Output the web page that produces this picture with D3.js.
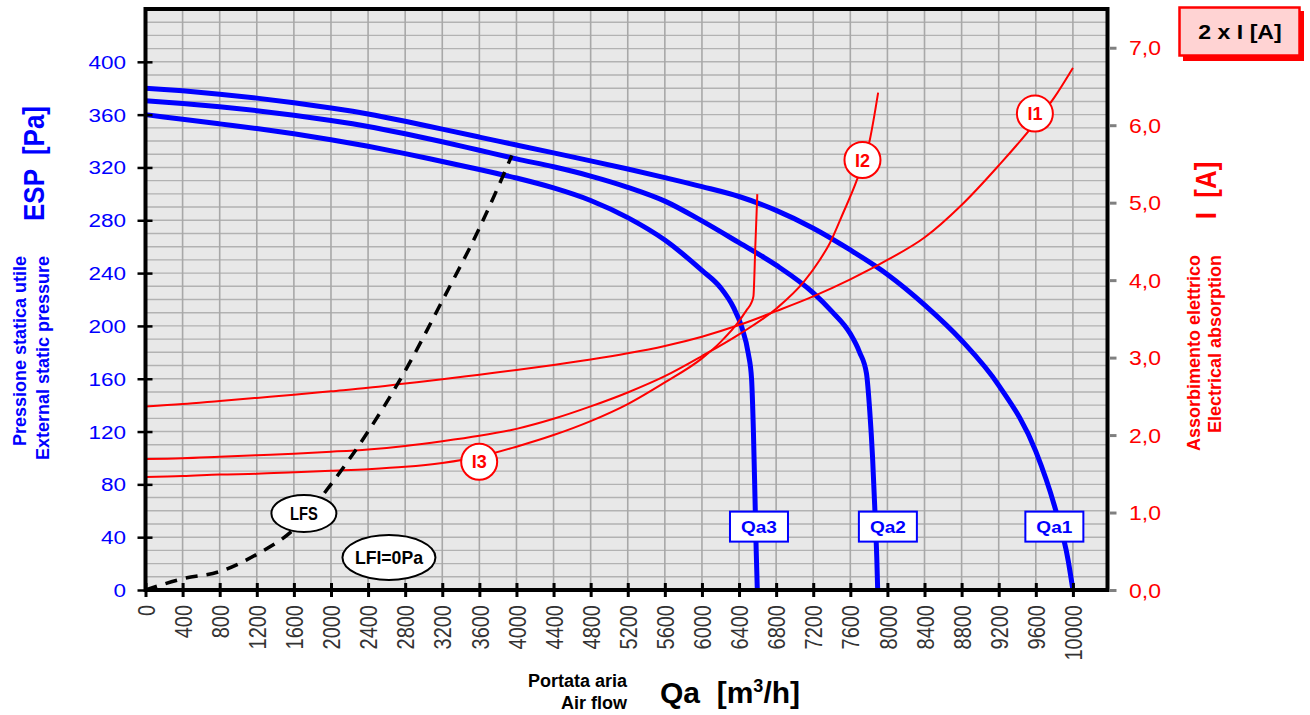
<!DOCTYPE html>
<html><head><meta charset="utf-8">
<script src="https://cdn.jsdelivr.net/npm/d3@7"></script>
<style>body{margin:0;background:#fff}svg{display:block}</style>
</head><body>
<svg id="c" width="1310" height="715"></svg>
<script>
// ---------- DATA ----------
// Air flow ticks (m3/h)
const xTickVals = [0,400,800,1200,1600,2000,2400,2800,3200,3600,4000,4400,4800,5200,5600,6000,6400,6800,7200,7600,8000,8400,8800,9200,9600,10000];
// Pressure ticks (Pa)
const yTickVals = [0,40,80,120,160,200,240,280,320,360,400];
// Current ticks (A)
const iTickVals = [0,1,2,3,4,5,6,7];

// Fan curves [flow m3/h, ESP Pa]
const qa1 = [[0,380],[400,378],[800,375.5],[1200,372.5],[1600,369],[2000,365],[2400,360.5],[2800,355],[3200,349],[3600,343],[4000,337],[4400,331],[4800,325],[5200,318.8],[5600,312.3],[6000,305.5],[6400,298],[6800,287.5],[7200,274],[7600,257.5],[8000,239],[8400,216],[8800,189],[9200,155],[9600,105],[9800,64],[9950,22],[10000,0]];
const qa2 = [[0,370.5],[400,368.5],[800,366],[1200,363],[1600,359.5],[2000,355.5],[2400,351],[2800,345.5],[3200,339.5],[3600,333],[4000,326.5],[4400,320.5],[4800,313.5],[5200,305],[5600,294.5],[6000,279.5],[6400,263],[6800,246],[7200,225],[7400,211],[7600,194],[7700,180],[7774,164],[7810,135],[7840,100],[7865,60],[7885,25],[7895,0]];
const qa3 = [[0,360],[400,356.5],[800,353],[1200,349.5],[1600,345.5],[2000,341],[2400,336],[2800,330.5],[3200,324.5],[3600,318.5],[4000,312],[4400,304.5],[4800,295],[5200,282],[5600,265],[6000,242],[6200,229],[6340,214],[6430,199],[6500,179],[6535,160],[6555,120],[6572,70],[6585,30],[6597,0]];
// Absorbed current curves [flow m3/h, A]
const i1 = [[0,2.37],[400,2.40],[800,2.44],[1200,2.48],[1600,2.52],[2000,2.565],[2400,2.61],[2800,2.665],[3200,2.72],[3600,2.78],[4000,2.84],[4400,2.905],[4800,2.975],[5200,3.055],[5600,3.15],[6000,3.27],[6400,3.42],[6800,3.60],[7200,3.79],[7600,4.01],[8000,4.26],[8400,4.55],[8800,4.97],[9200,5.48],[9600,6.04],[9800,6.36],[10000,6.74]];
const i2 = [[0,1.69],[400,1.70],[800,1.72],[1200,1.74],[1600,1.76],[2000,1.785],[2400,1.815],[2800,1.86],[3200,1.92],[3600,1.99],[4000,2.08],[4400,2.21],[4800,2.37],[5200,2.55],[5600,2.76],[6000,3.02],[6400,3.30],[6800,3.63],[7100,3.98],[7270,4.26],[7380,4.48],[7520,4.86],[7670,5.29],[7810,5.81],[7900,6.42]];
const i3 = [[0,1.46],[400,1.47],[800,1.49],[1200,1.50],[1600,1.52],[2000,1.54],[2400,1.56],[2800,1.59],[3200,1.64],[3600,1.72],[4000,1.85],[4400,2.00],[4800,2.18],[5200,2.40],[5600,2.68],[6000,2.99],[6200,3.20],[6400,3.47],[6480,3.61],[6530,3.70],[6555,3.79],[6576,4.45],[6597,5.11]];
// System curve LFS [flow, Pa]
const lfs = [[0,0],[400,8.5],[800,14],[1200,27],[1600,46],[2000,80],[2400,120],[2800,166],[3200,219],[3600,274],[3950,329]];

// Annotation anchors (data space)
const qaLabels = [["Qa1",9800,48],["Qa2",8005,48],["Qa3",6615,48]];
const iLabels = [["I1",9590,6.15],["I2",7731,5.55],["I3",3598,1.656]];

// ---------- DRAW ----------
const FF = "'Liberation Sans', Arial, sans-serif";
const svg = d3.select("#c");
const L = 145.5, R = 1107.5, T = 9, B = 590;
const x = d3.scaleLinear().domain([0,10400]).range([145.5,1110]);
const y = d3.scaleLinear().domain([0,440]).range([B,T]);
const y2 = d3.scaleLinear().domain([0,7.5]).range([B,T]);

svg.append("defs").append("clipPath").attr("id","clip")
  .append("rect").attr("x",L).attr("y",T).attr("width",R-L).attr("height",B-T);

svg.append("rect").attr("x",L).attr("y",T).attr("width",R-L).attr("height",B-T).attr("fill","#e8e8e8");

// grid
const grid = svg.append("g");
grid.selectAll("line.h").data(d3.range(10,440,10)).join("line")
  .attr("x1",L).attr("x2",R).attr("y1",d=>y(d)).attr("y2",d=>y(d))
  .attr("stroke","#b2b2b2").attr("stroke-width",1.4);
grid.selectAll("line.v").data(xTickVals.slice(1)).join("line")
  .attr("y1",T).attr("y2",B).attr("x1",d=>x(d)).attr("x2",d=>x(d))
  .attr("stroke","#a8a8a8").attr("stroke-width",1.6);

const plot = svg.append("g").attr("clip-path","url(#clip)");
const lineP = d3.line().x(d=>x(d[0])).y(d=>y(d[1])).curve(d3.curveMonotoneX);
const lineI = d3.line().x(d=>x(d[0])).y(d=>y2(d[1])).curve(d3.curveMonotoneX);

[qa1,qa2,qa3].forEach(s=>plot.append("path").attr("d",lineP(s)).attr("fill","none")
  .attr("stroke","#0000ff").attr("stroke-width",5).attr("stroke-linejoin","round"));
[i1,i2,i3].forEach(s=>plot.append("path").attr("d",lineI(s)).attr("fill","none")
  .attr("stroke","#ff0000").attr("stroke-width",2));
plot.append("path").attr("d",lineP(lfs)).attr("fill","none").attr("stroke","#000")
  .attr("stroke-width",3.5).attr("stroke-dasharray","12,9");

// frame
svg.append("rect").attr("x",L).attr("y",T).attr("width",R-L).attr("height",B-T)
  .attr("fill","none").attr("stroke","#000").attr("stroke-width",4);

function txt(parent, px, py, text, o){
  o = o||{};
  const g = parent.append("g").attr("transform",`translate(${px},${py}) scale(${o.sx||1},1)`);
  const t = g.append("text").attr("font-family",FF).attr("font-size",o.size||14)
    .attr("font-weight",o.weight||"normal").attr("fill",o.fill||"#000")
    .attr("text-anchor",o.anchor||"start").style("white-space","pre").text(text);
  if (o.rot) t.attr("transform",`rotate(${o.rot})`);
  if (o.dy) t.attr("dy",o.dy);
  return t;
}

// ellipses LFS / LFI
const ann = svg.append("g");
ann.append("ellipse").attr("cx",x(1708)).attr("cy",y(58)).attr("rx",32.5).attr("ry",18.5)
  .attr("fill","#fff").attr("stroke","#000").attr("stroke-width",2);
txt(ann, x(1708), y(58), "LFS", {size:18, weight:"bold", anchor:"middle", sx:0.82, dy:"0.36em"});
ann.append("ellipse").attr("cx",x(2625)).attr("cy",y(24.6)).attr("rx",46.5).attr("ry",22.5)
  .attr("fill","#fff").attr("stroke","#000").attr("stroke-width",2);
txt(ann, x(2625), y(24.6), "LFI=0Pa", {size:18, weight:"bold", anchor:"middle", sx:0.98, dy:"0.36em"});

// Qa boxes
qaLabels.forEach(([n,q,p])=>{
  ann.append("rect").attr("x",x(q)-29).attr("y",y(p)-15).attr("width",58).attr("height",30)
    .attr("fill","#fff").attr("stroke","#0000ff").attr("stroke-width",2);
  txt(ann, x(q), y(p), n, {size:17, weight:"bold", fill:"#0000ff", anchor:"middle", sx:1.12, dy:"0.36em"});
});
// I circles
iLabels.forEach(([n,q,a])=>{
  ann.append("circle").attr("cx",x(q)).attr("cy",y2(a)).attr("r",18)
    .attr("fill","#fff").attr("stroke","#ff0000").attr("stroke-width",2);
  txt(ann, x(q), y2(a), n, {size:18, weight:"bold", fill:"#ff0000", anchor:"middle", dy:"0.36em"});
});

// axes
const gx = svg.append("g").attr("transform",`translate(0,${B})`)
  .call(d3.axisBottom(x).tickValues(xTickVals).tickFormat(d=>String(d)).tickSize(7));
gx.select(".domain").remove();
gx.selectAll(".tick line").attr("y1",-7).attr("y2",7).attr("stroke","#000").attr("stroke-width",3);
gx.selectAll(".tick text").attr("x",0).attr("y",0).attr("dy","0.36em").attr("text-anchor","end")
  .attr("transform","translate(0,15) scale(1.2,1) rotate(-90)")
  .attr("font-size",20).attr("fill","#333").attr("font-family",FF);

const gy = svg.append("g").attr("transform",`translate(${L},0)`)
  .call(d3.axisLeft(y).tickValues(yTickVals).tickSize(8));
gy.select(".domain").remove();
gy.selectAll(".tick line").attr("x1",-8).attr("x2",7).attr("stroke","#000").attr("stroke-width",2.5);
gy.selectAll(".tick text").attr("x",0).attr("dy","0.36em").attr("text-anchor","end")
  .attr("transform","translate(-19.5,0) scale(1.25,1)")
  .attr("font-size",18).attr("fill","#0000ff").attr("font-family",FF);

const gy2 = svg.append("g").attr("transform",`translate(${R+2},0)`)
  .call(d3.axisRight(y2).tickValues(iTickVals).tickFormat(d=>d.toFixed(1).replace(".",",")).tickSize(7));
gy2.select(".domain").remove();
gy2.selectAll(".tick line").attr("x1",0).attr("x2",7).attr("stroke","#808080").attr("stroke-width",3);
gy2.selectAll(".tick text").attr("x",0).attr("dy","0.36em").attr("text-anchor","start")
  .attr("transform","translate(19.5,0) scale(1.15,1)")
  .attr("font-size",20).attr("fill","#ff0000").attr("font-family",FF);

// axis titles
const tl = svg.append("g");
txt(tl, 43.5, 163.5, "ESP  [Pa]", {size:26, weight:"bold", fill:"#0000ff", anchor:"middle", rot:-90, sx:1.15});
txt(tl, 26, 256, "Pressione statica utile", {size:18, weight:"bold", fill:"#0000ff", anchor:"end", rot:-90});
txt(tl, 48.5, 256, "External static pressure", {size:18, weight:"bold", fill:"#0000ff", anchor:"end", rot:-90});
txt(tl, 1216, 190.5, "I  [A]", {size:26, weight:"bold", fill:"#ff0000", anchor:"middle", rot:-90, sx:1.15});
txt(tl, 1199.5, 255, "Assorbimento elettrico", {size:18, weight:"bold", fill:"#ff0000", anchor:"end", rot:-90});
txt(tl, 1221, 255, "Electrical absorption", {size:18, weight:"bold", fill:"#ff0000", anchor:"end", rot:-90});
txt(tl, 627, 687, "Portata aria", {size:18, weight:"bold", anchor:"end"});
txt(tl, 627, 709, "Air flow", {size:18, weight:"bold", anchor:"end"});
const qt = txt(tl, 660, 703, "", {size:30, weight:"bold"});
qt.append("tspan").text("Qa  [m");
qt.append("tspan").attr("font-size",18).attr("dy",-11).text("3");
qt.append("tspan").attr("dy",11).text("/h]");

// legend box
const lg = svg.append("g");
lg.append("rect").attr("x",1183).attr("y",11).attr("width",121).attr("height",50).attr("fill","#ff0000");
lg.append("rect").attr("x",1179.5).attr("y",7.5).attr("width",120).attr("height",48)
  .attr("fill","#ffd3d3").attr("stroke","#ff0000").attr("stroke-width",2.5);
txt(lg, 1240, 39, "2 x I [A]", {size:21, weight:"bold", anchor:"middle", sx:1.1});
</script>
</body></html>
